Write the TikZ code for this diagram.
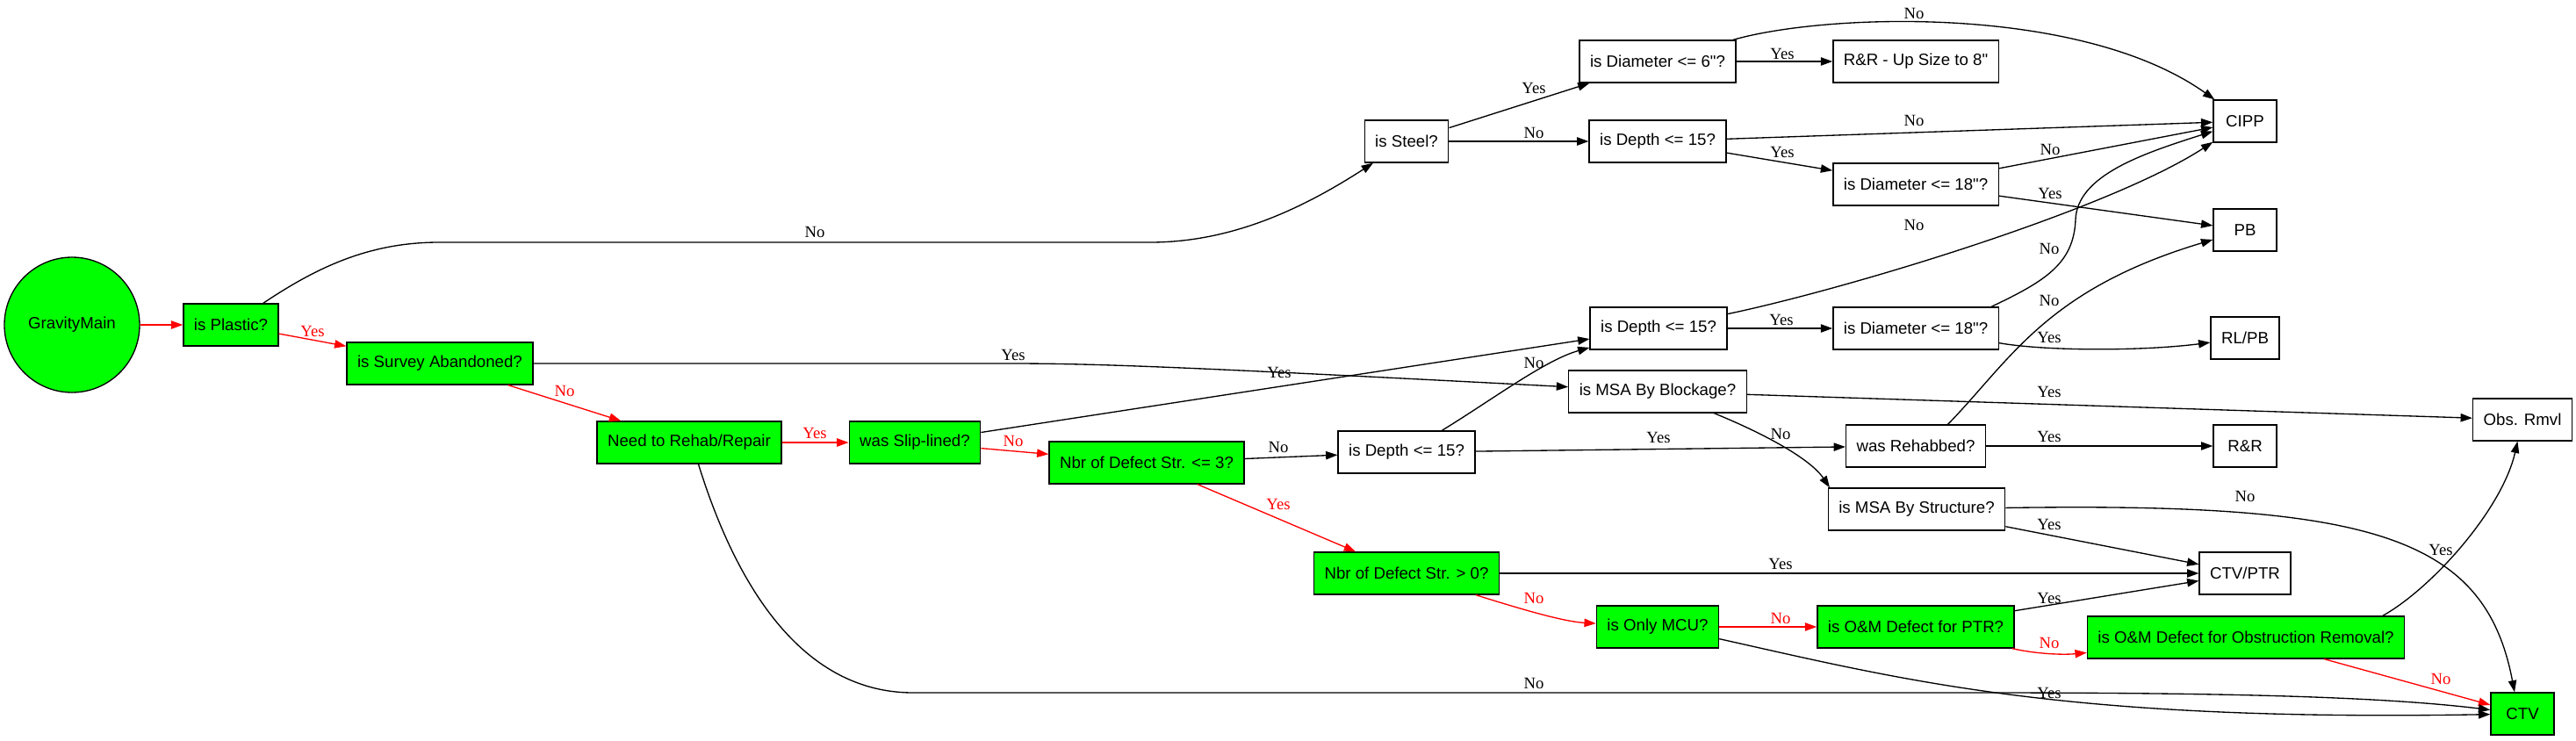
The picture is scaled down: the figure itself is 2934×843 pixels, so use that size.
\documentclass[tikz,border=0pt]{standalone}
\usepackage{fontspec}
\newfontfamily\gvsans{Liberation Sans}[Ligatures=TeXOff]
\newfontfamily\gvserif{Liberation Serif}
\usetikzlibrary{arrows.meta}
\definecolor{gvgreen}{RGB}{0,255,0}
\begin{document}
\begin{tikzpicture}[x=0.75pt,y=-0.75pt,
		box/.style={draw,line width=1pt,font=\gvsans\fontsize{14pt}{16pt}\selectfont,minimum width=54pt,minimum height=36pt,inner xsep=9pt,inner ysep=0pt},
		taken/.style={box,fill=gvgreen},
		link/.style={line width=1pt,-{Triangle[length=10pt,width=7pt]}},
		redlink/.style={link,red},
		lbl/.style={font=\gvserif\fontsize{14pt}{16pt}\selectfont,inner sep=0pt},
		redlbl/.style={lbl,text=red}]
			\useasboundingbox (0,0) rectangle (2934,843);
			% start
			\node[draw,circle,line width=1pt,fill=gvgreen,minimum size=115.5pt,font=\gvsans\fontsize{14pt}{16pt}\selectfont] (gm) at (82,370) {GravityMain};
			% taken path
			\node[taken] (plastic) at (263,370) {is Plastic?};
			\node[taken] (survey) at (501,414) {is Survey Abandoned?};
			\node[taken] (rehab) at (785,504) {Need to Rehab/Repair};
			\node[taken] (slip) at (1042,504) {was Slip-lined?};
			\node[taken] (nbrlow) at (1306,527) {Nbr of Defect Str. <= 3?};
			\node[taken] (nbrzero) at (1602,653) {Nbr of Defect Str. > 0?};
			\node[taken] (mcu) at (1888,714) {is Only MCU?};
			\node[taken] (omptr) at (2182,714) {is O\&M Defect for PTR?};
			\node[taken] (omobs) at (2558,726) {is O\&M Defect for Obstruction Removal?};
			\node[taken] (ctv) at (2873,813) {CTV};
			% other questions
			\node[box] (steel) at (1602,161) {is Steel?};
			\node[box] (depthlow) at (1602,515) {is Depth <= 15?};
			\node[box] (diamsix) at (1888,70) {is Diameter <= 6"?};
			\node[box] (depthtop) at (1888,161) {is Depth <= 15?};
			\node[box] (depthmid) at (1889,374) {is Depth <= 15?};
			\node[box] (msab) at (1888,446) {is MSA By Blockage?};
			\node[box] (diamtop) at (2182,210) {is Diameter <= 18"?};
			\node[box] (diammid) at (2182,374) {is Diameter <= 18"?};
			\node[box] (rehabbed) at (2182,508) {was Rehabbed?};
			\node[box] (msas) at (2183,580) {is MSA By Structure?};
			% outcomes
			\node[box] (upsize) at (2182,70) {R\&R - Up Size to 8"};
			\node[box] (cipp) at (2557,138) {CIPP};
			\node[box] (pb) at (2557,262) {PB};
			\node[box] (rlpb) at (2557,385) {RL/PB};
			\node[box] (rr) at (2557,508) {R\&R};
			\node[box] (ctvptr) at (2557,653) {CTV/PTR};
			\node[box] (obs) at (2873,478) {Obs. Rmvl};
			% red arrows
			\draw[redlink] (gm) -- (plastic);
			\draw[redlink] (plastic) -- (survey) node[redlbl] (t1) at (356,377) {Yes};
			\draw[redlink] (survey) -- (rehab) node[redlbl] (t2) at (643,445) {No};
			\draw[redlink] (rehab) -- (slip) node[redlbl] (t3) at (928,493) {Yes};
			\draw[redlink] (slip) -- (nbrlow) node[redlbl] (t4) at (1154,502) {No};
			\draw[redlink] (nbrlow) -- (nbrzero) node[redlbl] (t5) at (1456,574) {Yes};
			\draw[redlink] (nbrzero) .. controls (1730,693) and (1780,708) .. (mcu) node[redlbl] (t6) at (1747,681) {No};
			\draw[redlink] (mcu) -- (omptr) node[redlbl] (t7) at (2028,704) {No};
			\draw[redlink] (omptr) .. controls (2320,745) and (2350,746) .. (omobs) node[redlbl] (t8) at (2334,732) {No};
			\draw[redlink] (omobs) -- (ctv) node[redlbl] (t9) at (2780,773) {No};
			% black arrows
			\draw[link] (plastic) .. controls (360,305) and (420,276) .. (500,276) -- (1310,276) .. controls (1400,276) and (1480,240) .. (steel) node[lbl] (t10) at (928,264) {No};
			\draw[link] (steel) -- (diamsix) node[lbl] (t11) at (1747,100) {Yes};
			\draw[link] (steel) -- (depthtop) node[lbl] (t12) at (1747,151) {No};
			\draw[link] (diamsix) -- (upsize) node[lbl] (t13) at (2030,61) {Yes};
			\draw[link] (diamsix) .. controls (2080,15) and (2370,5) .. (cipp) node[lbl] (t14) at (2180,15) {No};
			\draw[link] (depthtop) -- (cipp) node[lbl] (t15) at (2180,137) {No};
			\draw[link] (depthtop) -- (diamtop) node[lbl] (t16) at (2030,173) {Yes};
			\draw[link] (diamtop) -- (cipp) node[lbl] (t17) at (2335,170) {No};
			\draw[link] (diamtop) -- (pb) node[lbl] (t18) at (2335,220) {Yes};
			\draw[link] (survey) -- (1150,414) .. controls (1250,414) and (1350,418) .. (msab) node[lbl] (t19) at (1154,404) {Yes};
			\draw[link] (slip) -- (depthmid) node[lbl] (t20) at (1457,424) {Yes};
			\draw[link] (depthmid) .. controls (2100,330) and (2400,240) .. (cipp) node[lbl] (t21) at (2180,256) {No};
			\draw[link] (depthmid) -- (diammid) node[lbl] (t22) at (2029,364) {Yes};
			\draw[link] (diammid.16) .. controls (2330,320) and (2362,300) .. (2364,250) .. controls (2366,200) and (2440,175) .. (cipp) node[lbl] (t23) at (2334,283) {No};
			\draw[link] (diammid) .. controls (2330,400) and (2440,400) .. (rlpb) node[lbl] (t24) at (2334,384) {Yes};
			\draw[link] (nbrlow) -- (depthlow) node[lbl] (t25) at (1456,509) {No};
			\draw[link] (depthlow) .. controls (1700,455) and (1760,410) .. (depthmid) node[lbl] (t26) at (1747,413) {No};
			\draw[link] (depthlow) -- (rehabbed) node[lbl] (t27) at (1889,498) {Yes};
			\draw[link] (rehabbed) -- (rr) node[lbl] (t28) at (2334,497) {Yes};
			\draw[link] (rehabbed.34) .. controls (2290,410) and (2330,330) .. (pb) node[lbl] (t29) at (2334,342) {No};
			\draw[link] (msab) -- (obs) node[lbl] (t30) at (2334,446) {Yes};
			\draw[link] (msab.339) .. controls (2000,490) and (2060,520) .. (msas.166) node[lbl] (t31) at (2028,494) {No};
			\draw[link] (msas) -- (ctvptr) node[lbl] (t32) at (2334,597) {Yes};
			\draw[link] (msas) .. controls (2700,572) and (2830,610) .. (ctv.110) node[lbl] (t33) at (2557,565) {No};
			\draw[link] (nbrzero) -- (ctvptr) node[lbl] (t34) at (2028,642) {Yes};
			\draw[link] (omptr) -- (ctvptr) node[lbl] (t35) at (2334,681) {Yes};
			\draw[link] (omobs.9) .. controls (2770,670) and (2850,580) .. (obs) node[lbl] (t36) at (2780,626) {Yes};
			\draw[link] (rehab.293) .. controls (830,640) and (900,789) .. (1040,789) -- (2250,789) .. controls (2500,789) and (2700,792) .. (ctv) node[lbl] (t37) at (1747,778) {No};
			\draw[link] (mcu.349) .. controls (2170,775) and (2350,822) .. (ctv) node[lbl] (t38) at (2334,789) {Yes};
		\end{tikzpicture}
\end{document}
